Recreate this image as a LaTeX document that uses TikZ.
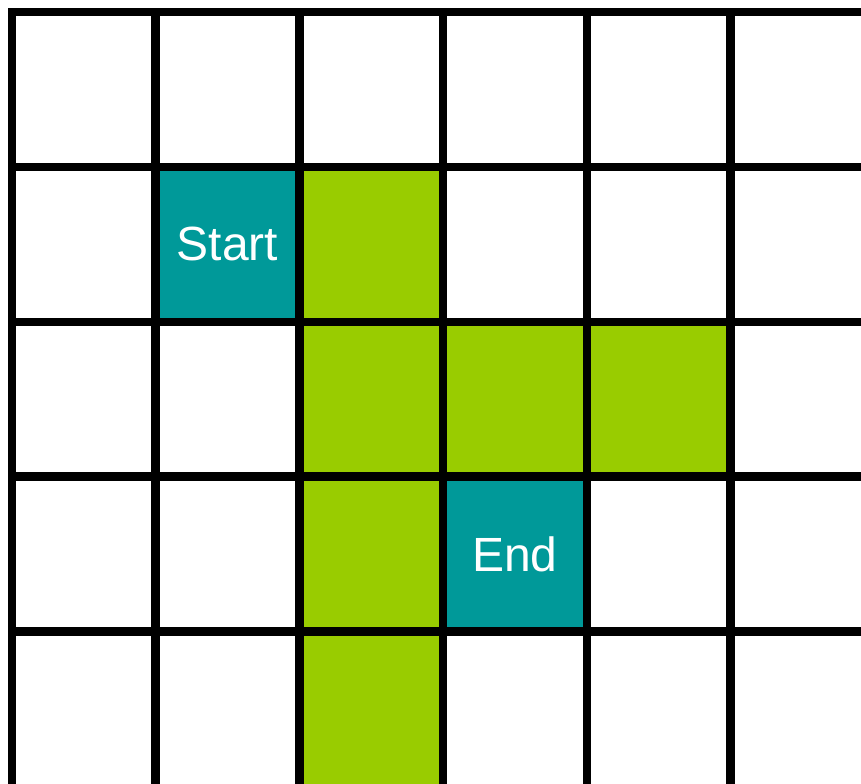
\documentclass[tikz,border=0pt]{standalone}
\usepackage{fontspec}
\setmainfont{Liberation Sans}
\definecolor{pathteal}{HTML}{009999}
\definecolor{pathgreen}{HTML}{99CC00}

\begin{document}
\begin{tikzpicture}[
  x=0.75pt, y=-0.75pt,
  gridline/.style={line width=6.4pt, line cap=rect},
  endpoint/.style={fill=pathteal},
  route/.style={fill=pathgreen},
  celltext/.style={text=white, font=\fontsize{36}{40}\selectfont},
]
  \useasboundingbox (0,0) rectangle (861,784);
  \clip (0,0) rectangle (861,784);

  % cell width and height in pixels
  \def\cw{143.7}
  \def\ch{154.9}

  % teal start and end cells
  \fill[endpoint] (12+\cw,12+\ch) rectangle ++(\cw,\ch);
  \fill[endpoint] (12+3*\cw,12+3*\ch) rectangle ++(\cw,\ch);

  % green route
  \foreach \c/\r in {2/1, 2/2, 3/2, 4/2, 2/3, 2/4}
    \fill[route] (12+\c*\cw,12+\r*\ch) rectangle ++(\cw,\ch);

  % grid
  \foreach \c in {0,...,5}
    \draw[gridline] (12+\c*\cw,12) -- (12+\c*\cw,800);
  \foreach \r in {0,...,4}
    \draw[gridline] (12,12+\r*\ch) -- (880,12+\r*\ch);

  \node[celltext] (start) at (12+1.5*\cw,12+1.5*\ch) {Start};
  \node[celltext] (end) at (12+3.5*\cw,12+3.5*\ch) {End};
\end{tikzpicture}
\end{document}
